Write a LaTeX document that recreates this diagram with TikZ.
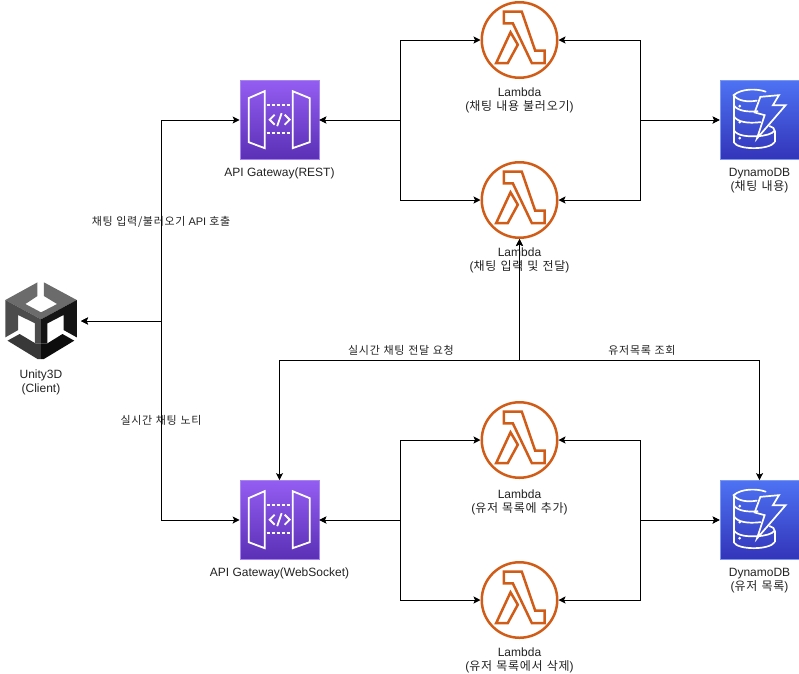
\documentclass[tikz,border=0pt]{standalone}
\usepackage{fontspec}
\setmainfont{Liberation Sans}
\newfontfamily\krfont[Scale=1.0,WordSpace=1.2]{Noto Sans CJK KR}
\newcommand{\K}[1]{{\krfont\addfontfeature{LetterSpace=6}#1}}
\usetikzlibrary{arrows.meta}
\definecolor{txt}{HTML}{222222}
\definecolor{gwtop}{HTML}{945DF2}
\definecolor{gwbot}{HTML}{5A30B5}
\definecolor{gwedge}{HTML}{A884F0}
\definecolor{dbtop}{HTML}{4D72F3}
\definecolor{dbbot}{HTML}{3334B9}
\definecolor{dbedge}{HTML}{7C97F2}
\definecolor{lam}{HTML}{D05C17}
\tikzset{
  x=1pt,y=-1pt,
  gwbox/.style={rectangle,minimum size=79pt,inner sep=0pt,outer sep=0.35pt,top color=gwtop,bottom color=gwbot,draw=gwedge,line width=0.7pt},
  dbbox/.style={rectangle,minimum size=79pt,inner sep=0pt,outer sep=0.35pt,top color=dbtop,bottom color=dbbot,draw=dbedge,line width=0.7pt},
  lamcircle/.style={circle,minimum size=75.5pt,inner sep=0pt,outer sep=1.25pt,draw=lam,line width=2.5pt},
  unitybox/.style={rectangle,minimum size=80pt,inner sep=0pt,outer sep=0pt},
  lbl/.style={align=center,inner sep=0pt,font=\fontsize{12pt}{14pt}\selectfont,text=txt},
  elbl/.style={align=center,inner sep=0pt,font=\fontsize{11pt}{13pt}\selectfont,text=txt},
  conn/.style={draw=black,line width=1pt,{Stealth[length=7pt,width=7pt,inset=1.5pt]}-{Stealth[length=7pt,width=7pt,inset=1.5pt]}},
  wline/.style={draw=white,line width=1.8pt,line join=miter},
  gwicon/.pic={
    \draw[wline] (9,18)--(25,11)--(25,68)--(9,62)--cycle;
    \draw[wline] (53,11)--(70,18)--(70,62)--(53,68)--cycle;
    \draw[wline,dash pattern=on 3pt off 2pt] (27,25)--(52,25);
    \draw[wline,dash pattern=on 3pt off 2pt] (27,53)--(52,53);
    \draw[wline] (35,34.5)--(30,39.5)--(35,44.5);
    \draw[wline] (45,34.5)--(50,39.5)--(45,44.5);
    \draw[wline] (42,33)--(37.5,46);
  },
  lamicon/.pic={
    \draw[draw=lam,line width=2.5pt,line join=miter]
      (-15.7,-28.3)--(2.3,-28.3)--(15.7,10.7)--(25,10.7)--(25,23)--(12.3,23)--(-6.7,-16.7)--(-15.7,-16.7)--cycle;
    \draw[draw=lam,line width=2.5pt,line join=miter]
      (-9,-7.7)--(-1.7,4.7)--(-11.7,23)--(-23.3,23)--cycle;
  },
  dynicon/.pic={
    \draw[wline,line width=1.7pt,line cap=round] (46,11.5) .. controls (38,8.5) and (22,8) .. (14,15) .. controls (18,21) and (28,22) .. (37,20.5);
    \draw[wline,line width=1.7pt] (14,15)--(14,62);
    \draw[wline,line width=1.7pt,line cap=round] (14,25) .. controls (18,31) and (28,32) .. (38,31);
    \draw[wline,line width=1.7pt,line cap=round] (14,36) .. controls (18,42) and (28,43.5) .. (41,42);
    \draw[wline,line width=1.7pt,line cap=round] (14,50) .. controls (18,56) and (28,56.5) .. (38,56) .. controls (46,55.5) and (52,54) .. (55,50.5) .. controls (55,48) and (53,47) .. (50,46);
    \draw[wline,line width=1.7pt] (55,50.5)--(55,62);
    \draw[wline,line width=1.7pt,line cap=round] (14,62) .. controls (18,70) and (50,70) .. (55,62);
    \fill[white] (20,26) circle (1.5pt) (20,42) circle (1.5pt) (20,58) circle (1.5pt);
    \draw[wline,line width=1.7pt,line join=miter] (40.7,16.7)--(59.3,15)--(53.3,25)--(66,25)--(37.3,58.3)--(45,35)--(35,32.3)--cycle;
  },
  unityicon/.pic={
    \begin{scope}[x=0.357pt,y=-0.3333pt]
      \fill[black!58] (22,60)--(112,7)--(112,48)--(78,72)--(122,97)--(167,72)--(130,48)--(130,7)--(222,60)--(122,118)--cycle;
      \fill[black!70] (22,60)--(122,118)--(122,190)--(105,190)--(105,130)--(58,105)--(58,150)--(22,172)--cycle;
      \fill[black!92] (222,60)--(122,118)--(122,190)--(140,190)--(140,130)--(185,105)--(185,150)--(222,172)--cycle;
      \fill[black!78] (28,182)--(62,162)--(106,190)--(122,190)--(122,237)--(112,237)--cycle;
      \fill[black!95] (215,182)--(182,162)--(140,190)--(122,190)--(122,237)--(130,237)--cycle;
    \end{scope}
  },
}
\begin{document}
\begin{tikzpicture}
\useasboundingbox (0,0) rectangle (799,673);
% labels (connectors run over them)
\node[lbl] (tl1) at (519.5,100.5) {Lambda\\(\K{채팅 내용 불러오기})};
\node[lbl] (tl2) at (519.5,260.5) {Lambda\\(\K{채팅 입력 및 전달})};
\node[lbl] (tl3) at (519.5,502.5) {Lambda\\(\K{유저 목록에 추가})};
\node[lbl] (tl4) at (519.5,660.5) {Lambda\\(\K{유저 목록에서 삭제})};
\node[lbl] (tg1) at (279.5,173) {API Gateway(REST)};
\node[lbl] (tg2) at (279.5,573) {API Gateway(WebSocket)};
\node[lbl] (td1) at (759.5,180.5) {DynamoDB\\(\K{채팅 내용})};
\node[lbl] (td2) at (759.5,580.5) {DynamoDB\\(\K{유저 목록})};
\node[lbl] (tu) at (41,382) {Unity3D\\(Client)};
\node[elbl] (e1) at (161,221.5) {\K{채팅 입력/불러오기} API \K{호출}};
\node[elbl] (e2) at (161,420) {\K{실시간 채팅 노티}};
\node[elbl] (e3) at (401,350) {\K{실시간 채팅 전달 요청}};
\node[elbl] (e4) at (642,350) {\K{유저목록 조회}};
% service nodes
\node[gwbox] (gw1) at (279.5,120) {};
\node[gwbox] (gw2) at (279.5,520) {};
\node[dbbox] (db1) at (759.5,120) {};
\node[dbbox] (db2) at (759.5,520) {};
\node[lamcircle] (lam1) at (519.5,40) {};
\node[lamcircle] (lam2) at (519.5,200) {};
\node[lamcircle] (lam3) at (519.5,440) {};
\node[lamcircle] (lam4) at (519.5,600) {};
\node[unitybox] (unity) at (41,321) {};
\pic at (gw1.north west) {gwicon};
\pic at (gw2.north west) {gwicon};
\pic at (db1.north west) {dynicon};
\pic at (db2.north west) {dynicon};
\pic at (lam1.center) {lamicon};
\pic at (lam2.center) {lamicon};
\pic at (lam3.center) {lamicon};
\pic at (lam4.center) {lamicon};
\pic at (-2.5,280) {unityicon};
% routing hubs
\coordinate (hA) at (400.5,120);
\coordinate (hB) at (640.5,120);
\coordinate (hC) at (400.5,520);
\coordinate (hD) at (640.5,520);
\coordinate (hU) at (161.5,321);
\coordinate (hT) at (520,360.5);
% connectors
\draw[conn] (gw1.east) -- (hA |- gw1.east) |- (lam1.west);
\draw[conn] (gw1.east) -- (hA |- gw1.east) |- (lam2.west);
\draw[conn] (db1.west) -- (hB |- db1.west) |- (lam1.east);
\draw[conn] (db1.west) -- (hB |- db1.west) |- (lam2.east);
\draw[conn] (gw2.east) -- (hC |- gw2.east) |- (lam3.west);
\draw[conn] (gw2.east) -- (hC |- gw2.east) |- (lam4.west);
\draw[conn] (db2.west) -- (hD |- db2.west) |- (lam3.east);
\draw[conn] (db2.west) -- (hD |- db2.west) |- (lam4.east);
\draw[conn] (unity.east) -- (hU) |- (gw1.west);
\draw[conn] (unity.east) -- (hU) |- (gw2.west);
\draw[conn] (lam2.south) -- (lam2.south |- hT) -| (gw2.north);
\draw[conn] (lam2.south) -- (lam2.south |- hT) -| (db2.north);
\end{tikzpicture}
\end{document}
